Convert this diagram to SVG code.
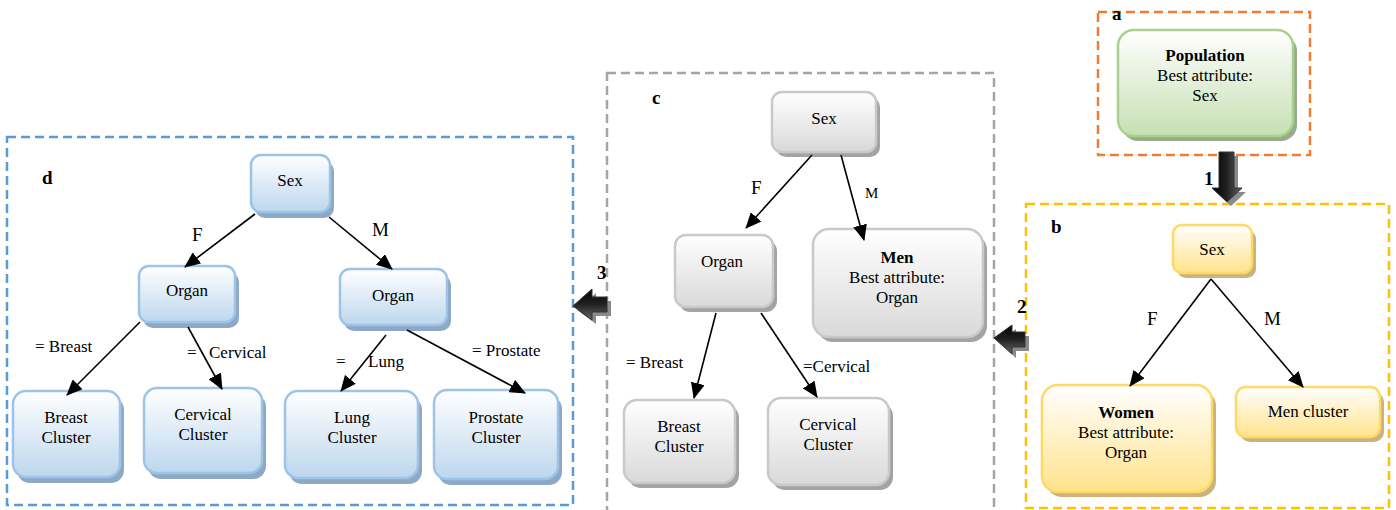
<svg xmlns="http://www.w3.org/2000/svg" width="1396" height="510" viewBox="0 0 1396 510">
<defs>
<linearGradient id="gBlue" x1="0" y1="0" x2="0" y2="1"><stop offset="0" stop-color="#ffffff"/><stop offset="1" stop-color="#bdd7ee"/></linearGradient>
<linearGradient id="gGray" x1="0" y1="0" x2="0" y2="1"><stop offset="0" stop-color="#ffffff"/><stop offset="1" stop-color="#d9d9d9"/></linearGradient>
<linearGradient id="gYellow" x1="0" y1="0" x2="0" y2="1"><stop offset="0" stop-color="#ffffff"/><stop offset="1" stop-color="#ffe38c"/></linearGradient>
<linearGradient id="gGreen" x1="0" y1="0" x2="0" y2="1"><stop offset="0" stop-color="#ffffff"/><stop offset="1" stop-color="#c5e0b3"/></linearGradient>
<linearGradient id="gArrowV" x1="0" y1="0" x2="1" y2="0"><stop offset="0" stop-color="#000"/><stop offset="0.5" stop-color="#222"/><stop offset="1" stop-color="#666"/></linearGradient>
<linearGradient id="gArrowH" x1="0" y1="0" x2="0" y2="1"><stop offset="0" stop-color="#000"/><stop offset="0.5" stop-color="#222"/><stop offset="1" stop-color="#666"/></linearGradient>
<marker id="ah" markerUnits="userSpaceOnUse" markerWidth="16" markerHeight="14" refX="15" refY="7" orient="auto">
<path d="M0,0 L16,7 L0,14 Z" fill="#000"/>
</marker>
</defs>
<style>
text{font-family:"Liberation Serif","Times New Roman",serif;fill:#000;}
.t{font-size:17px;text-anchor:middle;}
.lbl{font-size:17px;}
.big{font-size:19px;}
.sm{font-size:15px;}
.bold{font-weight:bold;}
.tag{font-size:19px;font-weight:bold;}
.frame{fill:none;stroke-width:2.5;stroke-dasharray:9 5;}
.blue rect.n{fill:url(#gBlue);stroke:#9dc3e6;stroke-width:2.5;}
.blue rect.s{fill:#8ea9c6;}
.gray rect.n{fill:url(#gGray);stroke:#c9c9c9;stroke-width:2.5;}
.gray rect.s{fill:#a3a3a3;}
.yellow rect.n{fill:url(#gYellow);stroke:#ffd966;stroke-width:2.5;}
.yellow rect.s{fill:#c9b47e;}
.green rect.n{fill:url(#gGreen);stroke:#a9d18e;stroke-width:2.5;}
.green rect.s{fill:#9aab8c;}
.edge{stroke:#000;stroke-width:1.6;fill:none;marker-end:url(#ah);}
.blk{stroke:#333;stroke-width:1;}
.bshadow{fill:#8a8a8a;}
</style>

<!-- Frames -->
<g id="frames">
<rect class="frame" x="1098" y="12" width="212" height="143" stroke="#ed7d31"/>
<rect class="frame" x="1026" y="204" width="363" height="304" stroke="#ffc000"/>
<rect class="frame" x="607" y="73" width="387" height="450" stroke="#a5a5a5"/>
<rect class="frame" x="7" y="137" width="566" height="368" stroke="#5b9bd5"/>
<text class="tag" x="1112" y="20">a</text>
<text class="tag" x="1051" y="233">b</text>
<text class="tag" x="652" y="104">c</text>
<text class="tag" x="42" y="184">d</text>
</g>

<!-- Block arrows -->
<g id="step-arrows">
<path class="bshadow" d="M1223,156 H1238 V192 H1246 L1231,206 L1216,192 H1223 Z"/>
<path class="blk" fill="url(#gArrowV)" d="M1219,152 H1234 V188 H1242 L1227,202 L1212,188 H1219 Z"/>
<text class="tag" x="1204" y="185">1</text>
<path class="bshadow" d="M998,342 L1016,329 V336 H1029 V351 H1016 V358 Z"/>
<path class="blk" fill="url(#gArrowH)" d="M994,338 L1012,325 V332 H1025 V347 H1012 V354 Z"/>
<text class="tag" x="1017" y="313">2</text>
<path class="bshadow" d="M577,310 L596,293 V301 H611 V316 H596 V324 Z"/>
<path class="blk" fill="url(#gArrowH)" d="M573,306 L592,289 V297 H607 V312 H592 V320 Z"/>
<text class="tag" x="597" y="279">3</text>
</g>

<!-- Panel a -->
<g id="a-population" class="green">
<rect class="s" x="1122" y="35" width="175" height="106" rx="16"/>
<rect class="n" x="1118" y="30" width="175" height="106" rx="16"/>
<text class="t bold" x="1205" y="61">Population</text>
<text class="t" x="1205" y="81">Best attribute:</text>
<text class="t" x="1205" y="101">Sex</text>
</g>

<!-- Panel b -->
<g id="b-sex" class="yellow">
<rect class="s" x="1177" y="230" width="79" height="48" rx="9"/>
<rect class="n" x="1173" y="225" width="79" height="48" rx="9"/>
<text class="t" x="1212" y="255">Sex</text>
</g>
<g id="b-women" class="yellow">
<rect class="s" x="1046" y="390" width="170" height="107" rx="16"/>
<rect class="n" x="1042" y="385" width="170" height="107" rx="16"/>
<text class="t bold" x="1126" y="418">Women</text>
<text class="t" x="1126" y="438">Best attribute:</text>
<text class="t" x="1126" y="458">Organ</text>
</g>
<g id="b-men" class="yellow">
<rect class="s" x="1240" y="392" width="144" height="50" rx="10"/>
<rect class="n" x="1236" y="387" width="144" height="50" rx="10"/>
<text class="t" x="1308" y="417">Men cluster</text>
</g>

<!-- Panel c -->
<g id="c-sex" class="gray">
<rect class="s" x="776" y="97" width="104" height="60" rx="10"/>
<rect class="n" x="772" y="92" width="104" height="60" rx="10"/>
<text class="t" x="824" y="124">Sex</text>
</g>
<g id="c-organ" class="gray">
<rect class="s" x="679" y="240" width="98" height="72" rx="11"/>
<rect class="n" x="675" y="235" width="98" height="72" rx="11"/>
<text class="t" x="722" y="267">Organ</text>
</g>
<g id="c-men" class="gray">
<rect class="s" x="817" y="234" width="170" height="108" rx="16"/>
<rect class="n" x="813" y="229" width="170" height="108" rx="16"/>
<text class="t bold" x="897" y="263">Men</text>
<text class="t" x="897" y="283">Best attribute:</text>
<text class="t" x="897" y="303">Organ</text>
</g>
<g id="c-breast" class="gray">
<rect class="s" x="628" y="405" width="111" height="83" rx="13"/>
<rect class="n" x="624" y="400" width="111" height="83" rx="13"/>
<text class="t" x="679" y="432">Breast</text>
<text class="t" x="679" y="452">Cluster</text>
</g>
<g id="c-cervical" class="gray">
<rect class="s" x="772" y="403" width="121" height="87" rx="13"/>
<rect class="n" x="768" y="398" width="121" height="87" rx="13"/>
<text class="t" x="828" y="430">Cervical</text>
<text class="t" x="828" y="450">Cluster</text>
</g>

<!-- Panel d -->
<g id="d-sex" class="blue">
<rect class="s" x="255" y="161" width="79" height="57" rx="10"/>
<rect class="n" x="251" y="155" width="79" height="57" rx="10"/>
<text class="t" x="290" y="186">Sex</text>
</g>
<g id="d-organ-f" class="blue">
<rect class="s" x="143" y="272" width="96" height="56" rx="10"/>
<rect class="n" x="139" y="266" width="96" height="56" rx="10"/>
<text class="t" x="187" y="296">Organ</text>
</g>
<g id="d-organ-m" class="blue">
<rect class="s" x="344" y="275" width="107" height="56" rx="10"/>
<rect class="n" x="340" y="269" width="107" height="56" rx="10"/>
<text class="t" x="393" y="301">Organ</text>
</g>
<g id="d-breast" class="blue">
<rect class="s" x="17" y="397" width="107" height="86" rx="13"/>
<rect class="n" x="13" y="391" width="107" height="86" rx="13"/>
<text class="t" x="66" y="423">Breast</text>
<text class="t" x="66" y="443">Cluster</text>
</g>
<g id="d-cervical" class="blue">
<rect class="s" x="148" y="394" width="118" height="85" rx="13"/>
<rect class="n" x="144" y="388" width="118" height="85" rx="13"/>
<text class="t" x="203" y="420">Cervical</text>
<text class="t" x="203" y="440">Cluster</text>
</g>
<g id="d-lung" class="blue">
<rect class="s" x="289" y="397" width="133" height="87" rx="13"/>
<rect class="n" x="285" y="391" width="133" height="87" rx="13"/>
<text class="t" x="352" y="423">Lung</text>
<text class="t" x="352" y="443">Cluster</text>
</g>
<g id="d-prostate" class="blue">
<rect class="s" x="438" y="396" width="124" height="89" rx="13"/>
<rect class="n" x="434" y="390" width="124" height="89" rx="13"/>
<text class="t" x="496" y="423">Prostate</text>
<text class="t" x="496" y="443">Cluster</text>
</g>

<!-- Connectors -->
<g id="connectors">
<line class="edge" x1="1211" y1="279" x2="1130" y2="386"/>
<line class="edge" x1="1211" y1="279" x2="1303" y2="387"/>
<line class="edge" x1="812" y1="155" x2="746" y2="228"/>
<line class="edge" x1="841" y1="155" x2="864" y2="240"/>
<line class="edge" x1="716" y1="313" x2="694" y2="398"/>
<line class="edge" x1="761" y1="313" x2="817" y2="397"/>
<line class="edge" x1="255" y1="214" x2="185" y2="267"/>
<line class="edge" x1="329" y1="217" x2="392" y2="269"/>
<line class="edge" x1="140" y1="322" x2="67" y2="395"/>
<line class="edge" x1="188" y1="327" x2="222" y2="389"/>
<line class="edge" x1="386" y1="335" x2="341" y2="391"/>
<line class="edge" x1="407" y1="330" x2="525" y2="393"/>
</g>

<!-- Edge labels -->
<g id="edge-labels">
<text class="big" x="1147" y="325">F</text>
<text class="big" x="1264" y="325">M</text>
<text class="big" x="751" y="194">F</text>
<text class="sm" x="865" y="198">M</text>
<text class="lbl" x="626" y="368">= Breast</text>
<text class="lbl" x="803" y="372">=Cervical</text>
<text class="big" x="192" y="241">F</text>
<text class="big" x="372" y="236">M</text>
<text class="lbl" x="35" y="352">= Breast</text>
<text class="lbl" x="187" y="358">=</text>
<text class="lbl" x="209" y="358">Cervical</text>
<text class="lbl" x="336" y="367">=</text>
<text class="lbl" x="368" y="367">Lung</text>
<text class="lbl" x="472" y="356">= Prostate</text>
</g>
</svg>
